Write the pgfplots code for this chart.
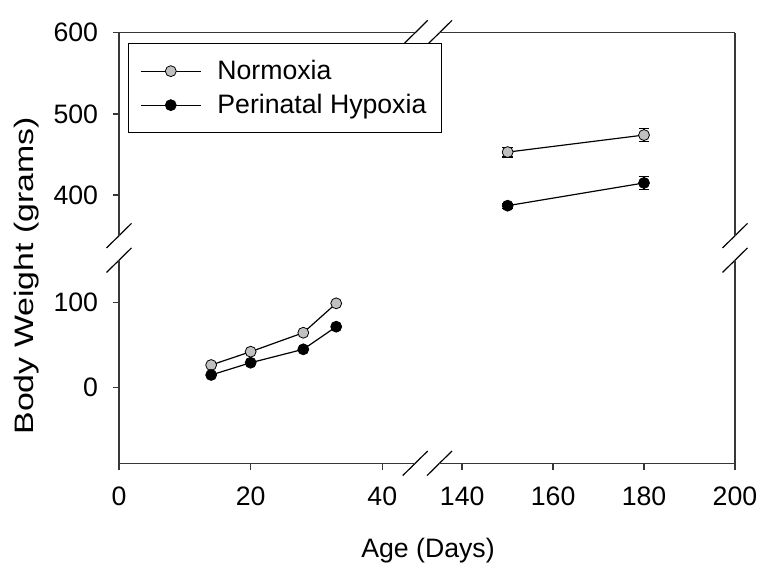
\documentclass[border=0pt]{standalone}
\usepackage{pgfplots}
\pgfplotsset{compat=1.18}
\usepackage{fontspec}
\setmainfont{Liberation Sans}
\definecolor{ngray}{RGB}{192,192,192}
\definecolor{axgray}{RGB}{55,55,55}
\newcommand{\bigf}{\fontsize{20}{24}\selectfont}
\pgfplotsset{
  brk/.style={
    scale only axis,
    axis line style={axgray, line width=1.1pt, -},
    tick style={axgray, line width=1.1pt},
    tick align=outside,
    major tick length=4.7pt,
    tick label style={font=\bigf},
    x tick label style={yshift=-9.5pt},
    y tick label style={xshift=-7.5pt},
    /pgf/number format/assume math mode=true,
    clip=false,
    anchor=south west,
  },
  nline/.style={black, line width=0.9pt, mark=*, mark size=4.1pt,
    mark options={fill=ngray, draw=black, line width=0.6pt}},
  hline/.style={black, line width=0.9pt, mark=*, mark size=4.1pt,
    mark options={fill=black, draw=black, line width=0.6pt}},
}
\begin{document}
\begin{tikzpicture}
\path[use as bounding box] (0,0) rectangle (578.25pt,426pt);
% break marks
\begin{scope}[x=0.75pt, y=-0.75pt, shift={(0pt,426pt)}, line width=0.9pt]
  \foreach \cx/\cy in {119/235.7, 119/260.2, 735/235.7, 735/260.2, 415.2/463.3, 439.5/463.3, 415.2/32.7, 439.5/32.7}
    \draw (\cx-12.5,\cy+12.3) -- (\cx+12.5,\cy-12.3);
\end{scope}
% lower left
\begin{axis}[brk, at={(89.25pt,78.5pt)}, width=222.15pt, height=152.3pt,
  xmin=0, xmax=45, ymin=-89, ymax=150,
  axis x line*=bottom, axis y line*=left,
  xtick={0,20,40}, ytick={0,100}]
\addplot[nline] coordinates {(14,26.7) (20,42.4) (28,64.7) (33,99.3)};
\addplot[hline] coordinates {(14,15) (20,29.4) (28,45.2) (33,71.8)};
\end{axis}
% lower right
\begin{axis}[brk, at={(329.6pt,78.5pt)}, width=221.6pt, height=152.3pt,
  xmin=135, xmax=200, ymin=-89, ymax=150,
  axis x line*=bottom, axis y line*=right,
  xtick={140,160,180,200}, ytick=\empty]
\end{axis}
% upper left
\begin{axis}[brk, at={(89.25pt,249.2pt)}, width=222.15pt, height=152.25pt,
  xmin=0, xmax=45, ymin=350, ymax=600,
  axis x line*=top, axis y line*=left,
  xtick=\empty, ytick={400,500,600}]
\end{axis}
% upper right
\begin{axis}[brk, at={(329.6pt,249.2pt)}, width=221.6pt, height=152.25pt,
  xmin=135, xmax=200, ymin=350, ymax=600,
  axis x line*=top, axis y line*=right,
  xtick=\empty, ytick=\empty,
  legend style={at={(-1.0552,0.9478)}, anchor=north west, draw=black, line width=0.75pt,
    fill=white, font=\bigf, inner xsep=9pt, inner ysep=10.5pt, row sep=5.5pt, column sep=10pt},
  legend cell align=left,
  legend image code/.code={\draw[mark repeat=2, mark phase=2] plot coordinates {(0pt,0pt) (22.5pt,0pt) (45pt,0pt)};}]
\addplot[nline, error bars/.cd, y dir=both, y explicit, error bar style={black, line width=0.8pt},
  error mark options={rotate=90, mark size=4pt, line width=0.8pt}]
  coordinates {(150,453) +- (0,6) (180,474) +- (0,8)};
\addplot[hline, error bars/.cd, y dir=both, y explicit, error bar style={black, line width=0.8pt},
  error mark options={rotate=90, mark size=4pt, line width=0.8pt}]
  coordinates {(150,387) +- (0,3) (180,415) +- (0,8)};
\legend{Normoxia, Perinatal Hypoxia}
\end{axis}
% axis labels
\node[font=\bigf, anchor=base] at (321pt,7.8pt) {Age (Days)};
\node[font=\bigf, anchor=base, rotate=90, xscale=1.27] at (25pt,219.15pt) {Body Weight (grams)};
\end{tikzpicture}
\end{document}
